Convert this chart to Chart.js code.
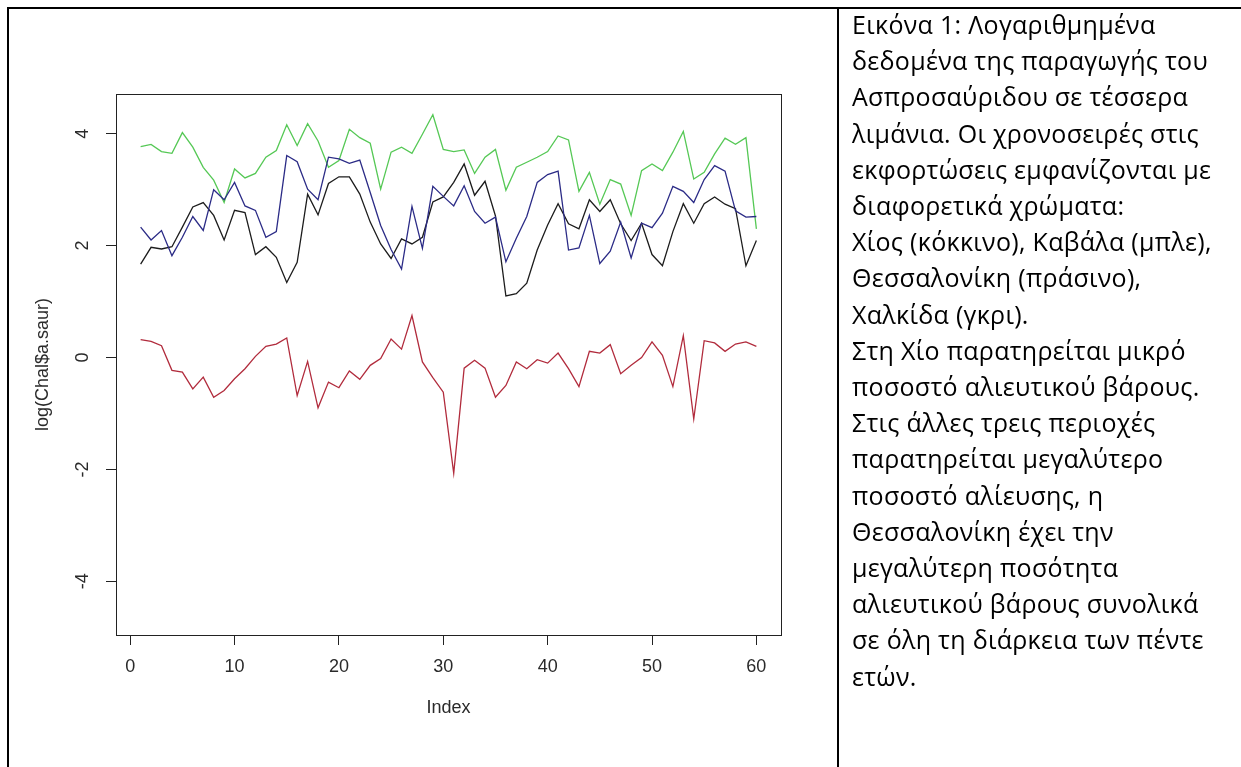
<!DOCTYPE html>
<html lang="el">
<head>
<meta charset="utf-8">
<title>log(Chal$a.saur)</title>
<script src="https://cdn.jsdelivr.net/npm/chart.js@4.4.1/dist/chart.umd.min.js"></script>
<style>
  html, body { margin: 0; padding: 0; background: #fff; }
  body { width: 1241px; height: 767px; position: relative; overflow: hidden; }
  #plot { position: absolute; left: 0; top: 0; width: 838px; height: 767px; }
  .rule { position: absolute; background: #000; }
  #caption {
    position: absolute; left: 852px; top: 6px;
    font-family: "Open Sans", sans-serif; font-size: 25px; letter-spacing: 0.3px;
    line-height: 36.2px; color: #000; white-space: nowrap;
  }
</style>
</head>
<body>
<div id="plot"><canvas id="chart" width="838" height="767"></canvas></div>
<div class="rule" style="left:7px;top:7px;width:1234px;height:2px"></div>
<div class="rule" style="left:7px;top:7px;width:2px;height:760px"></div>
<div class="rule" style="left:837px;top:7px;width:2px;height:760px"></div>
<div id="caption">
  <div>Εικόνα 1: Λογαριθμημένα</div>
  <div>δεδομένα της παραγωγής του</div>
  <div>Ασπροσαύριδου σε τέσσερα</div>
  <div>λιμάνια. Οι χρονοσειρές στις</div>
  <div>εκφορτώσεις εμφανίζονται με</div>
  <div>διαφορετικά χρώματα:</div>
  <div>Χίος (κόκκινο), Καβάλα (μπλε),</div>
  <div>Θεσσαλονίκη (πράσινο),</div>
  <div>Χαλκίδα (γκρι).</div>
  <div>Στη Χίο παρατηρείται μικρό</div>
  <div>ποσοστό αλιευτικού βάρους.</div>
  <div>Στις άλλες τρεις περιοχές</div>
  <div>παρατηρείται μεγαλύτερο</div>
  <div>ποσοστό αλίευσης, η</div>
  <div>Θεσσαλονίκη έχει την</div>
  <div>μεγαλύτερη ποσότητα</div>
  <div>αλιευτικού βάρους συνολικά</div>
  <div>σε όλη τη διάρκεια των πέντε</div>
  <div>ετών.</div>
</div>
<script>
// log catch per port, 60 observations each (Index 1..60)
const index = Array.from({ length: 60 }, (_, i) => i + 1);

const thessaloniki = [
  3.77, 3.81, 3.68, 3.65, 4.02, 3.76, 3.40, 3.17, 2.77, 3.37,
  3.21, 3.29, 3.58, 3.70, 4.16, 3.79, 4.18, 3.87, 3.40, 3.52,
  4.08, 3.93, 3.83, 3.01, 3.67, 3.76, 3.65, 3.99, 4.34, 3.72,
  3.68, 3.71, 3.29, 3.58, 3.72, 2.99, 3.40, 3.49, 3.58, 3.68,
  3.96, 3.89, 2.97, 3.31, 2.74, 3.18, 3.10, 2.54, 3.34, 3.46,
  3.34, 3.67, 4.04, 3.19, 3.31, 3.64, 3.92, 3.81, 3.93, 2.30
];
const kavala = [
  2.33, 2.10, 2.27, 1.82, 2.15, 2.52, 2.27, 3.00, 2.82, 3.13,
  2.71, 2.63, 2.15, 2.25, 3.61, 3.50, 3.01, 2.82, 3.58, 3.55,
  3.47, 3.53, 2.95, 2.36, 1.93, 1.58, 2.70, 1.95, 3.06, 2.88,
  2.71, 3.07, 2.61, 2.40, 2.51, 1.71, 2.13, 2.52, 3.13, 3.27,
  3.33, 1.92, 1.96, 2.54, 1.68, 1.90, 2.42, 1.78, 2.40, 2.32,
  2.58, 3.06, 2.97, 2.77, 3.18, 3.43, 3.33, 2.62, 2.51, 2.52
];
const chalkida = [
  1.67, 1.97, 1.94, 1.98, 2.33, 2.69, 2.77, 2.54, 2.10, 2.63,
  2.59, 1.84, 1.98, 1.79, 1.34, 1.70, 2.92, 2.55, 3.11, 3.23,
  3.23, 2.92, 2.42, 2.03, 1.77, 2.12, 2.03, 2.15, 2.78, 2.87,
  3.13, 3.46, 2.90, 3.15, 2.53, 1.10, 1.14, 1.33, 1.92, 2.37,
  2.75, 2.39, 2.30, 2.82, 2.61, 2.82, 2.39, 2.09, 2.40, 1.84,
  1.64, 2.25, 2.75, 2.40, 2.75, 2.87, 2.74, 2.66, 1.64, 2.09
];
const chios = [
  0.32, 0.29, 0.21, -0.23, -0.26, -0.56, -0.35, -0.71, -0.59, -0.38,
  -0.20, 0.02, 0.20, 0.24, 0.35, -0.68, -0.07, -0.90, -0.44, -0.54,
  -0.24, -0.39, -0.14, -0.02, 0.33, 0.15, 0.75, -0.08, -0.36, -0.62,
  -2.07, -0.19, -0.05, -0.19, -0.71, -0.50, -0.08, -0.20, -0.04, -0.10,
  0.08, -0.20, -0.52, 0.11, 0.08, 0.23, -0.29, -0.14, 0.00, 0.28,
  0.04, -0.52, 0.39, -1.10, 0.30, 0.26, 0.11, 0.24, 0.28, 0.20
];

const xTicks = [0, 10, 20, 30, 40, 50, 60];
const yTicks = [-4, -2, 0, 2, 4];

const series = [
  { name: 'Χίος', values: chios, color: '#b12b3c' },
  { name: 'Καβάλα', values: kavala, color: '#2b2b86' },
  { name: 'Θεσσαλονίκη', values: thessaloniki, color: '#55c855' },
  { name: 'Χαλκίδα', values: chalkida, color: '#1c1c1c' }
];

const axisFont = { family: '"Liberation Sans", Arial, sans-serif', size: 18 };
const ink = '#2a2a2a';

// R-style box around the plotting region
const frame = {
  id: 'frame',
  afterDatasetsDraw(chart) {
    const { ctx, chartArea: a } = chart;
    ctx.save();
    ctx.strokeStyle = '#222';
    ctx.lineWidth = 1;
    ctx.strokeRect(a.left + 0.5, a.top + 0.5, a.right - a.left, a.bottom - a.top);
    ctx.restore();
  }
};

new Chart(document.getElementById('chart'), {
  type: 'line',
  data: {
    datasets: series.map(s => ({
      label: s.name,
      data: s.values.map((v, i) => ({ x: index[i], y: v })),
      borderColor: s.color,
      borderWidth: 1.3,
      pointRadius: 0,
      tension: 0,
      fill: false
    }))
  },
  options: {
    responsive: false,
    animation: false,
    events: [],
    layout: { padding: { top: 94, right: 57, bottom: 0, left: 0 } },
    plugins: { legend: { display: false }, tooltip: { enabled: false } },
    scales: {
      x: {
        type: 'linear',
        position: 'bottom',
        min: -1.36,
        max: 62.36,
        afterBuildTicks: s => { s.ticks = xTicks.map(v => ({ value: v })); },
        afterFit: s => { s.height = 132; },
        grid: { drawOnChartArea: false, drawTicks: true, tickLength: 10, tickColor: '#222' },
        border: { display: false },
        ticks: { font: axisFont, color: ink, padding: 11, maxRotation: 0, minRotation: 0, autoSkip: false },
        title: { display: true, text: 'Index', font: axisFont, color: ink, padding: { top: 0, bottom: 48 } }
      },
      y: {
        type: 'linear',
        position: 'left',
        min: -4.96,
        max: 4.71,
        afterBuildTicks: s => { s.ticks = yTicks.map(v => ({ value: v })); },
        afterFit: s => { s.width = 116; },
        grid: { drawOnChartArea: false, drawTicks: true, tickLength: 10, tickColor: '#222' },
        border: { display: false },
        ticks: { font: axisFont, color: ink, padding: 15, minRotation: 90, maxRotation: 90, crossAlign: 'center', autoSkip: false },
        title: { display: true, text: 'log(Chal$a.saur)', font: axisFont, color: ink, padding: { top: 32, bottom: 0 } }
      }
    }
  },
  plugins: [frame]
});
</script>
</body>
</html>
